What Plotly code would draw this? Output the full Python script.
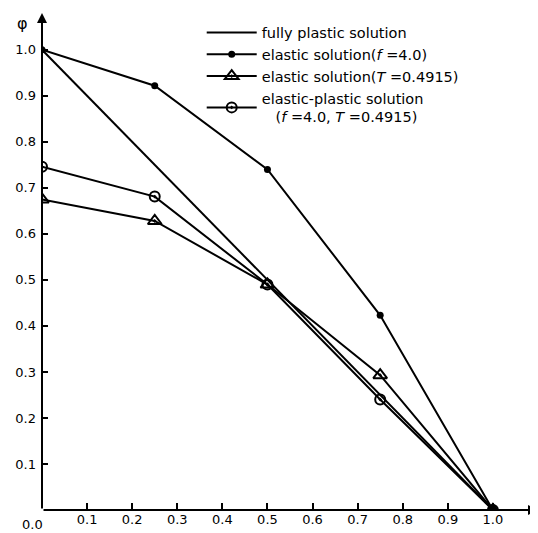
import plotly.graph_objects as go

x_vals = [0.0, 0.25, 0.5, 0.75, 1.0]
plastic = [1.0, 0.75, 0.5, 0.25, 0.0]
elastic_f = [1.0, 0.922, 0.74, 0.423, 0.0]
elastic_t = [0.675, 0.628, 0.49, 0.293, 0.0]
elastic_plastic = [0.746, 0.681, 0.49, 0.24, 0.0]

names = ["fully plastic solution",
         "elastic solution(<i>f</i> =4.0)",
         "elastic solution(<i>T</i> =0.4915)",
         "elastic-plastic solution<br>   (<i>f</i> =4.0, <i>T</i> =0.4915)"]

x_ticks = [0.1, 0.2, 0.3, 0.4, 0.5, 0.6, 0.7, 0.8, 0.9, 1.0]
y_ticks = [0.1, 0.2, 0.3, 0.4, 0.5, 0.6, 0.7, 0.8, 0.9, 1.0]

FONT = "DejaVu Sans, Arial, sans-serif"
fig = go.Figure()
fig.add_trace(go.Scatter(x=x_vals, y=plastic, mode="lines", name=names[0],
                         line=dict(color="black", width=2)))
fig.add_trace(go.Scatter(x=x_vals, y=elastic_f, mode="lines+markers", name=names[1],
                         line=dict(color="black", width=2),
                         marker=dict(symbol="circle", size=7, color="black")))
fig.add_trace(go.Scatter(x=x_vals, y=elastic_t, mode="lines+markers", name=names[2],
                         line=dict(color="black", width=2),
                         marker=dict(symbol="triangle-up-open-dot", size=12, color="black",
                                     line=dict(width=2, color="black"))))
fig.add_trace(go.Scatter(x=x_vals, y=elastic_plastic, mode="lines+markers", name=names[3],
                         line=dict(color="black", width=2),
                         marker=dict(symbol="circle-open-dot", size=10, color="black",
                                     line=dict(width=2, color="black"))))

# page body has an 8px default margin, so the figure is shrunk by 8px
fig.update_layout(
    width=530, height=525,
    margin=dict(l=34, r=0, t=5, b=23),
    paper_bgcolor="white", plot_bgcolor="white",
    font=dict(family=FONT, size=14, color="black"),
    showlegend=True,
    legend=dict(x=0.322, y=0.993, xanchor="left", yanchor="top",
                bgcolor="rgba(0,0,0,0)", font=dict(size=14.5), tracegroupgap=0,
                itemwidth=50),
    xaxis=dict(range=[0, 1.1], tickvals=x_ticks, ticktext=[f"{v:.1f}" for v in x_ticks],
               ticks="inside", ticklen=7, tickwidth=2, tickcolor="black",
               showgrid=False, zeroline=False, showline=False,
               tickfont=dict(size=13)),
    yaxis=dict(range=[0, 1.08], tickvals=y_ticks, ticktext=[f"{v:.1f}" for v in y_ticks],
               ticks="inside", ticklen=6, tickwidth=2, tickcolor="black",
               showgrid=False, zeroline=False, showline=False,
               tickfont=dict(size=13), ticklabelstandoff=5),
)

# axes with arrows
fig.add_annotation(x=1.1, y=0, ax=0, ay=0, xref="x", yref="y", axref="x", ayref="y",
                   text="", showarrow=True, arrowhead=2, arrowsize=1, arrowwidth=2,
                   arrowcolor="black")
fig.add_annotation(x=0, y=1.08, ax=0, ay=0, xref="x", yref="y", axref="x", ayref="y",
                   text="", showarrow=True, arrowhead=2, arrowsize=1, arrowwidth=2,
                   arrowcolor="black")
# origin label
fig.add_annotation(x=0, y=0, xref="x", yref="y", text="0.0", showarrow=False,
                   xshift=-10, yshift=-14, font=dict(size=13))
# axis titles
fig.add_annotation(x=0, y=1.08, xref="x", yref="y", text="φ", showarrow=False,
                   xshift=-20, yshift=-10, font=dict(size=16))
fig.add_annotation(x=1.1, y=0, xref="x", yref="y", text="<i>f</i>", showarrow=False,
                   xshift=-4, yshift=-14, font=dict(size=14))

fig.write_html("out.html")
